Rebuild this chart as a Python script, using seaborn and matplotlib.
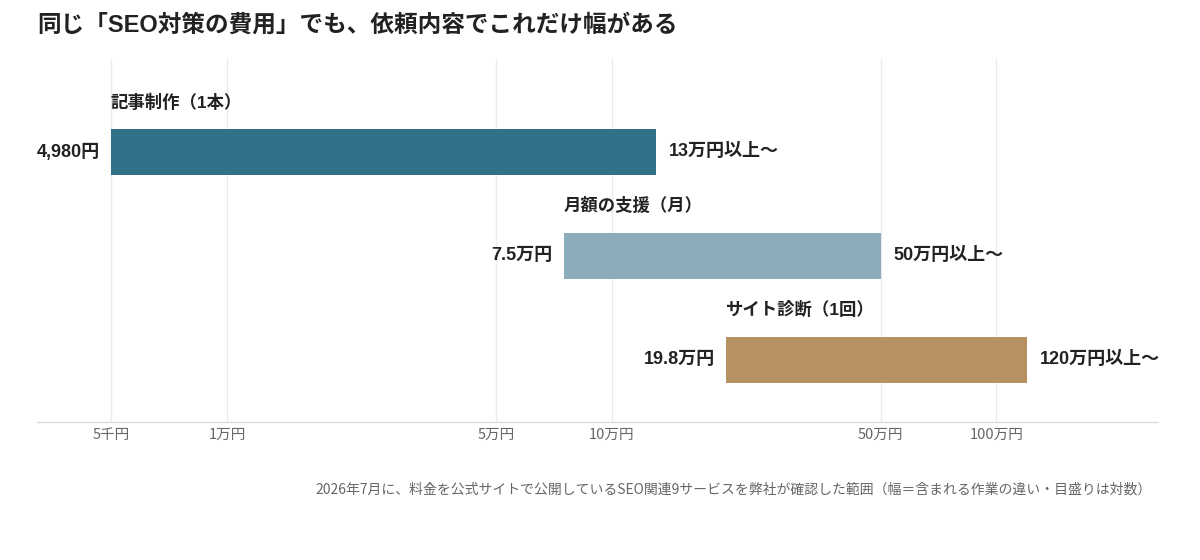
import numpy as np
import pandas as pd
import matplotlib
matplotlib.use('Agg')
import matplotlib.pyplot as plt
import seaborn as sns

# データ
categories = ['記事制作（1本）', '月額の支援（月）', 'サイト診断（1回）']
low_values = [4980, 75000, 198000]
high_values = [130000, 500000, 1200000]
low_labels = ['4,980円', '7.5万円', '19.8万円']
high_labels = ['13万円以上〜', '50万円以上〜', '120万円以上〜']
bar_colors = ['#33718a', '#8aacbb', '#b89162']
tick_values = [5000, 10000, 50000, 100000, 500000, 1000000]
tick_labels = ['5千円', '1万円', '5万円', '10万円', '50万円', '100万円']

title = '同じ「SEO対策の費用」でも、依頼内容でこれだけ幅がある'
note = ('2026年7月に、料金を公式サイトで公開しているSEO関連9サービスを弊社が確認した範囲'
        '（幅＝含まれる作業の違い・目盛りは対数）')

sns.set_theme(style='white')
plt.rcParams['font.family'] = ['Noto Sans CJK JP', 'DejaVu Sans']
mixed = ['Liberation Sans', 'Noto Sans CJK JP', 'DejaVu Sans']

df = pd.DataFrame({
    'category': categories,
    'low': low_values,
    'high': high_values,
})

fig = plt.figure(figsize=(12, 5.6), dpi=100)
ax = fig.add_axes([0.031, 0.246, 0.934, 0.649])

sns.barplot(data=df, x='high', y='category', hue='category', palette=bar_colors,
            orient='y', errorbar=None, width=0.445, saturation=1,
            legend=False, linewidth=0, ax=ax)

# 棒の左端を下限値にずらす（範囲バー）
for patch, lo, hi in zip(ax.patches, df['low'], df['high']):
    patch.set_x(lo)
    patch.set_width(hi - lo)
    patch.set_edgecolor('none')

ax.set_xscale('log')
ax.set_xlim(3210, 2.63e6)
ax.set_ylim(2.603, -0.897)

ax.set_xticks(tick_values)
ax.set_xticklabels(tick_labels)
ax.xaxis.set_minor_locator(matplotlib.ticker.NullLocator())
ax.tick_params(axis='x', length=0, pad=4, labelsize=10.5, labelcolor='#666666')
ax.set_yticks([])
ax.set_xlabel('')
ax.set_ylabel('')
ax.grid(axis='x', color='#ebebeb', linewidth=1)
ax.set_axisbelow(True)
for side in ['top', 'left', 'right']:
    ax.spines[side].set_visible(False)
ax.spines['bottom'].set_color('#dddddd')
ax.spines['bottom'].set_linewidth(1)

for i, row in df.iterrows():
    ax.text(row['low'], i - 0.48, row['category'], ha='left', va='center',
            fontsize=12.5, fontweight='bold', color='#222222', family=mixed)
    ax.annotate(low_labels[i], (row['low'], i), xytext=(-8, 0),
                textcoords='offset points', ha='right', va='center',
                fontsize=13, fontweight='bold', color='#222222', family=mixed)
    ax.annotate(high_labels[i], (row['high'], i), xytext=(9.5, 0),
                textcoords='offset points', ha='left', va='center',
                fontsize=13, fontweight='bold', color='#222222', family=mixed)

fig.text(0.031, 0.955, title, ha='left', va='center', fontsize=17,
         fontweight='bold', color='#222222', family=mixed)
fig.text(0.9595, 0.125, note, ha='right', va='center', fontsize=10,
         color='#666666')

plt.savefig('out.png', dpi=100)
